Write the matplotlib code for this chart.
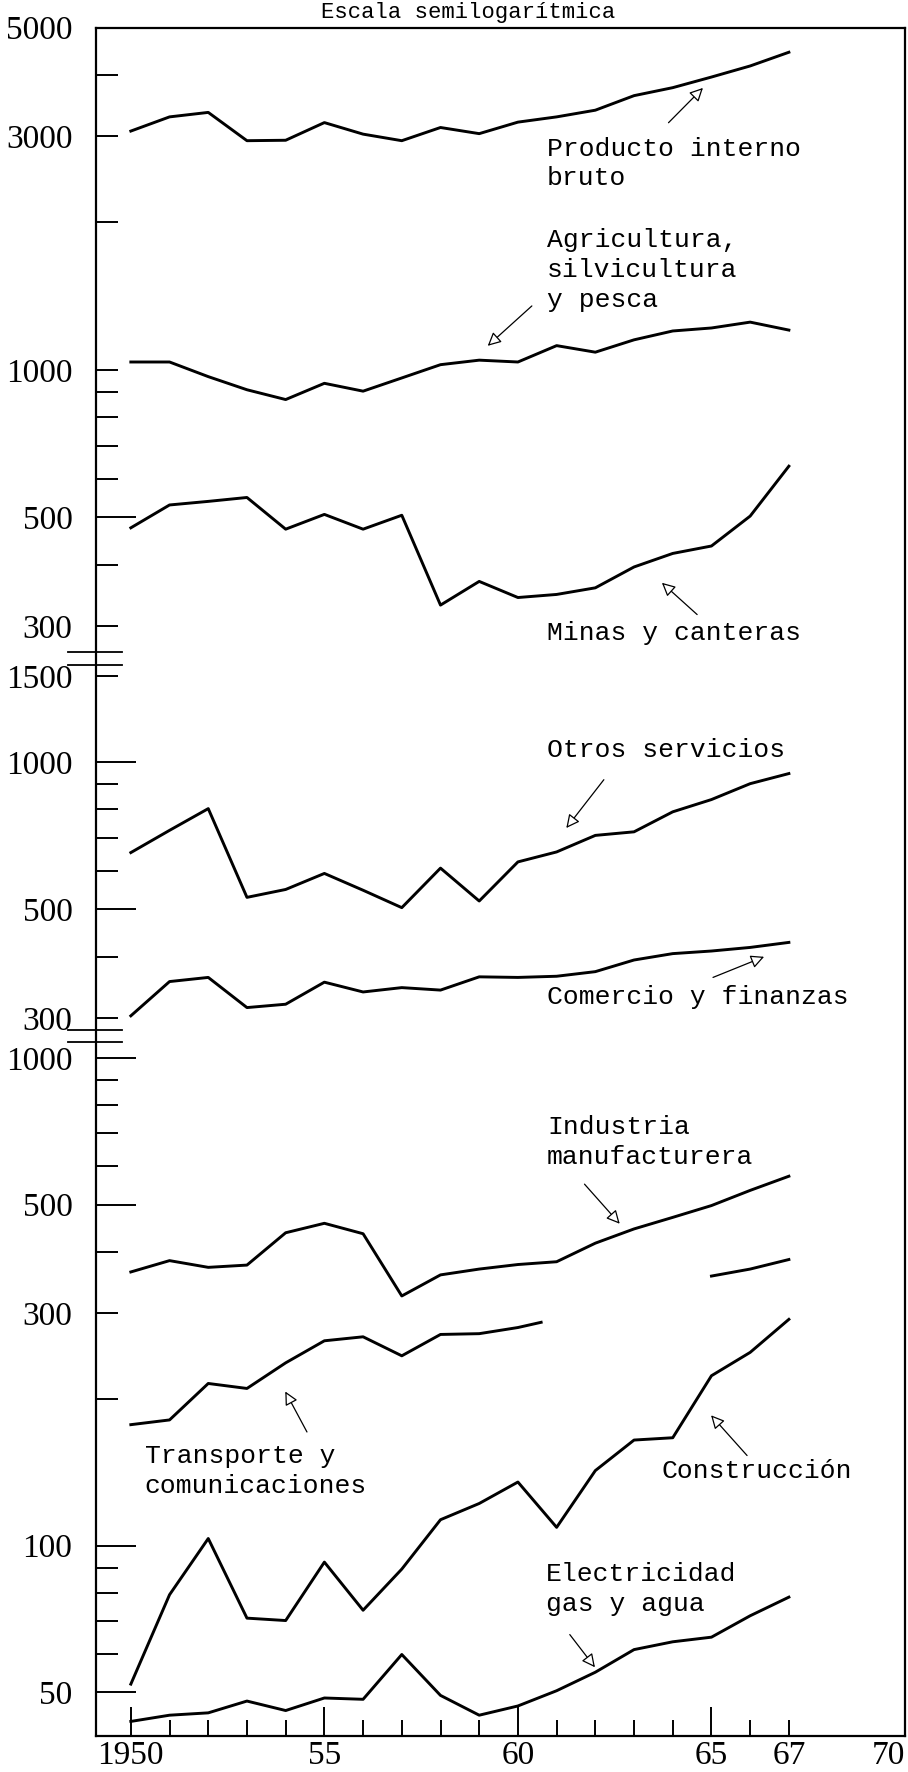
import matplotlib.pyplot as plt
from matplotlib.lines import Line2D
from matplotlib.ticker import FixedLocator, FuncFormatter

# ---- data (millions, semilog) ----
years = list(range(1950, 1968))

# upper panel
pib = [3074, 3286, 3356, 2938, 2944, 3199, 3030, 2938, 3126, 3037,
       3206, 3286, 3391, 3631, 3770, 3963, 4175, 4453]
agricultura = [1038, 1038, 969, 911, 870, 939, 905, 963, 1025, 1047,
               1038, 1121, 1087, 1152, 1201, 1218, 1252, 1206]
minas = [476, 530, 539, 549, 473, 507, 473, 505, 331, 370,
         343, 348, 359, 396, 422, 437, 503, 636]

# middle panel
otros_servicios = [653, 725, 803, 529, 549, 592, 547, 504, 607, 520,
                   625, 655, 708, 720, 791, 838, 903, 947]
comercio = [303, 356, 363, 315, 320, 355, 339, 346, 342, 364,
            363, 365, 373, 394, 406, 411, 418, 428]

# lower panel
industria = [364, 384, 372, 376, 438, 458, 436, 325, 359, 369,
             377, 382, 417, 446, 471, 498, 535, 572]
years_b = [1965, 1966, 1967]
serie_b = [357, 369, 386]
years_transporte = [1950, 1951, 1952, 1953, 1954, 1955, 1956, 1957, 1958, 1959, 1960, 1960.6]
transporte = [177, 181, 215, 210, 237, 263, 268, 245, 271, 272, 280, 287]
construccion = [52.0, 79.3, 103.4, 71.0, 70.2, 92.5, 73.7, 89.5, 113, 122,
                135, 109, 142.5, 164.6, 166.4, 223, 249, 291]
electricidad = [43.6, 44.9, 45.4, 48.0, 45.9, 48.7, 48.4, 59.8, 49.3, 44.9,
                46.9, 50.4, 55.0, 61.2, 63.5, 64.9, 71.8, 78.4]

# axis ticks
x_major = [1950, 1955, 1960, 1965, 1967, 1970]
x_major_labels = ['1950', '55', '60', '65', '67', '70']
x_minor = [y for y in years if y not in x_major]

ylims = [(266, 5000), (284, 1578), (40.7, 1078)]
yticks = [
    [300, 400, 500, 600, 700, 800, 900, 1000, 2000, 3000, 4000, 5000],
    [300, 400, 500, 600, 700, 800, 900, 1000, 1500],
    [50, 60, 70, 80, 90, 100, 200, 300, 400, 500, 600, 700, 800, 900, 1000],
]
ylong = [[500], [500, 1000], [50, 100, 500, 1000]]
ylabels = [[300, 500, 1000, 3000, 5000], [300, 500, 1000, 1500], [50, 100, 300, 500, 1000]]

# ---- figure ----
W, H = 908, 1772
fig = plt.figure(figsize=(W / 100, H / 100), dpi=100)
left, right = 96 / W, 905 / W
panels = [(27.6, 651.6), (665, 1029.6), (1042, 1736)]   # top / bottom in px
axes = []
for top, bot in panels:
    axes.append(fig.add_axes([left, 1 - bot / H, right - left, (bot - top) / H]))

num_font = 'Liberation Serif'
mono = 'Liberation Mono'
lw = 2.1

for i, ax in enumerate(axes):
    ax.set_yscale('log')
    ax.set_ylim(*ylims[i])
    ax.set_xlim(1949.1, 1970.0)
    for s in ax.spines.values():
        s.set_visible(False)
    major = sorted(ylong[i])
    minor = sorted(v for v in yticks[i] if v not in ylong[i])
    ax.yaxis.set_major_locator(FixedLocator(major))
    ax.yaxis.set_minor_locator(FixedLocator(minor))
    labs = ylabels[i]
    fmt = FuncFormatter(lambda v, p, labs=labs: f'{int(round(v))}' if int(round(v)) in labs else '')
    ax.yaxis.set_major_formatter(fmt)
    ax.yaxis.set_minor_formatter(fmt)
    ax.tick_params(axis='y', which='both', direction='in', width=1.4, pad=17,
                   labelsize=24, colors='black')
    ax.tick_params(axis='y', which='major', length=29)
    ax.tick_params(axis='y', which='minor', length=16)
    for lab in ax.get_yticklabels(which='both'):
        lab.set_family(num_font)
    if i < 2:
        ax.set_xticks([])
        ax.set_xticks([], minor=True)

# break marks between panels
for ax, ys in zip(axes, [[0], [1, 0], [1]]):
    for yy in ys:
        ax.plot([-0.035, 0.032], [yy, yy], transform=ax.transAxes,
                clip_on=False, color='black', lw=1.3)

# frame lines
fig.add_artist(Line2D([left, left], [1 - 1736 / H, 1 - 27.6 / H], color='black', lw=1.6))
fig.add_artist(Line2D([right, right], [1 - 1736 / H, 1 - 27.6 / H], color='black', lw=1.6))
axes[0].spines['top'].set_visible(True)
axes[0].spines['top'].set_linewidth(1.6)
axes[2].spines['bottom'].set_visible(True)
axes[2].spines['bottom'].set_linewidth(1.6)

# x axis
ax3 = axes[2]
ax3.set_xticks(x_major)
ax3.set_xticklabels(x_major_labels)
ax3.set_xticks(x_minor, minor=True)
ax3.tick_params(axis='x', which='both', direction='in', width=1.4, pad=3, labelsize=24)
ax3.tick_params(axis='x', which='major', length=21)
ax3.tick_params(axis='x', which='minor', length=11.5)
for lab in ax3.get_xticklabels():
    lab.set_family(num_font)
ticks = ax3.xaxis.get_major_ticks()
ticks[4].tick1line.set_markersize(11.5)
ticks[5].tick1line.set_visible(False)
ticks[5].label1.set_horizontalalignment('right')

# ---- series ----
ax1, ax2, ax3 = axes
ax1.plot(years, pib, color='black', lw=lw)
ax1.plot(years, agricultura, color='black', lw=lw)
ax1.plot(years, minas, color='black', lw=lw)
ax2.plot(years, otros_servicios, color='black', lw=lw)
ax2.plot(years, comercio, color='black', lw=lw)
ax3.plot(years, industria, color='black', lw=lw)
ax3.plot(years_b, serie_b, color='black', lw=lw)
ax3.plot(years_transporte, transporte, color='black', lw=lw)
ax3.plot(years, construccion, color='black', lw=lw)
ax3.plot(years, electricidad, color='black', lw=lw)

# ---- labels and arrows ----
arrow = dict(arrowstyle='-|>', color='black', lw=0.9, fc='white', mutation_scale=20,
             shrinkA=0, shrinkB=0)
txt = dict(family=mono, fontsize=19, va='center', ha='left', linespacing=1.3)

ax1.text(1960.75, 2641, 'Producto interno\nbruto', **txt)
ax1.annotate('', xy=(1964.78, 3765), xytext=(1963.89, 3197), arrowprops=arrow)
ax1.text(1960.75, 1600, 'Agricultura,\nsilvicultura\ny pesca', **txt)
ax1.annotate('', xy=(1959.22, 1120), xytext=(1960.36, 1351), arrowprops=arrow)
ax1.text(1960.75, 290, 'Minas y canteras', **txt)
ax1.annotate('', xy=(1963.72, 367.6), xytext=(1964.63, 316.6), arrowprops=arrow)

ax2.text(1960.75, 1058, 'Otros servicios', **txt)
ax2.annotate('', xy=(1961.25, 733), xytext=(1962.22, 920), arrowprops=arrow)
ax2.text(1960.75, 331, 'Comercio y finanzas', **txt)
ax2.annotate('', xy=(1966.36, 400), xytext=(1965.04, 363), arrowprops=arrow)

ax3.text(1960.75, 672, 'Industria\nmanufacturera', **txt)
ax3.annotate('', xy=(1962.63, 457), xytext=(1961.72, 551), arrowprops=arrow)
ax3.text(1950.36, 142, 'Transporte y\ncomunicaciones', **txt)
ax3.annotate('', xy=(1953.99, 207), xytext=(1954.55, 171), arrowprops=arrow)
ax3.text(1963.7, 142.5, 'Construcción', **txt)
ax3.annotate('', xy=(1964.99, 185), xytext=(1965.92, 153), arrowprops=arrow)
ax3.text(1960.72, 81.4, 'Electricidad\ngas y agua', **txt)
ax3.annotate('', xy=(1961.99, 56.3), xytext=(1961.34, 65.7), arrowprops=arrow)

# title squeezed above the frame
fig.text(468 / W, 1 - 2 / H, 'Escala semilogarítmica', family=mono, fontsize=16,
         ha='center', va='top')

fig.savefig('out.png', dpi=100)
